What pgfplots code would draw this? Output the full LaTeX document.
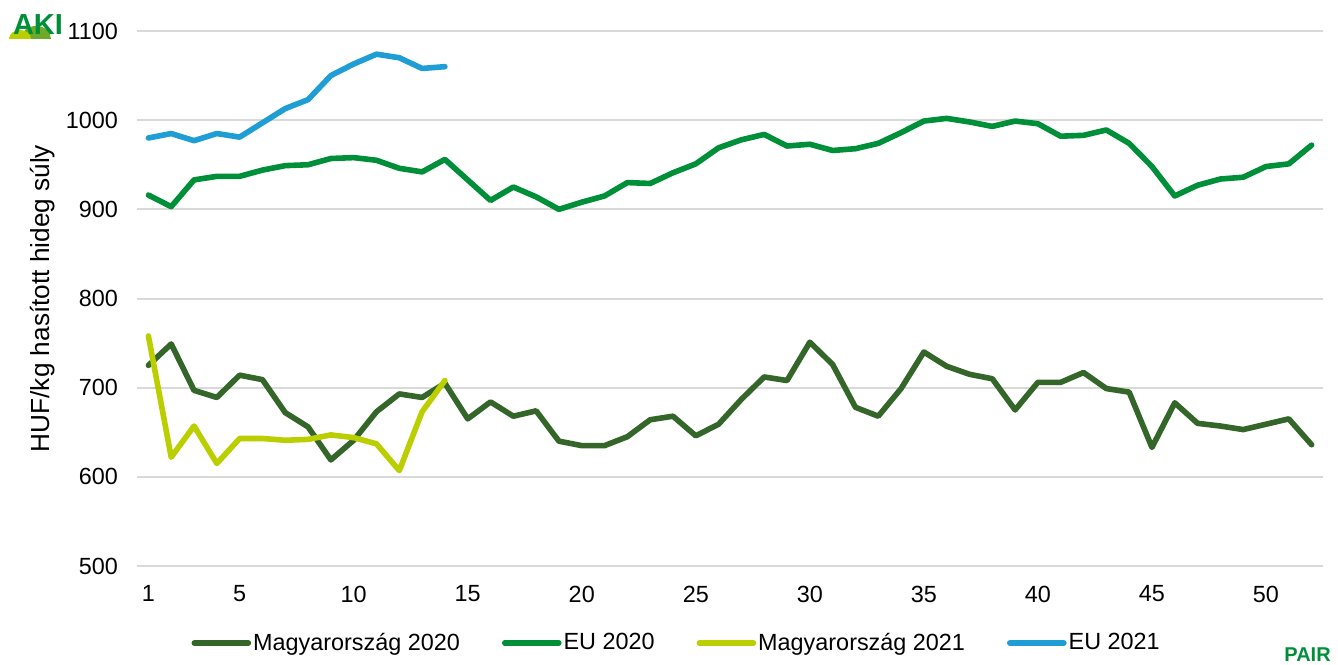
\documentclass[border=0pt]{standalone}
\usepackage{pgfplots}
\pgfplotsset{compat=1.18}
\usepackage{fontspec}
\setmainfont{Liberation Sans}
\definecolor{huA}{RGB}{52,102,42}
\definecolor{euA}{RGB}{0,143,57}
\definecolor{huB}{RGB}{187,207,0}
\definecolor{euB}{RGB}{31,158,213}
\definecolor{gridc}{RGB}{217,217,217}
\definecolor{akiOlive}{RGB}{110,170,40}
\begin{document}
\begin{tikzpicture}
\begin{axis}[
  scale only axis,
  width=593pt, height=267.5pt,
  xmin=0.5, xmax=52.5, ymin=500, ymax=1100,
  xtick={1,5,10,15,20,25,30,35,40,45,50},
  ytick={500,600,700,800,900,1000,1100},
  axis line style={draw=none},
  major tick length=0pt,
  ymajorgrids,
  grid style={gridc, line width=1pt},
  /pgf/number format/assume math mode=true,
  /pgf/number format/1000 sep={},
  tick label style={font=\fontsize{11.7}{14}\selectfont},
  yticklabel style={xshift=-6pt},
  xticklabel style={yshift=-6.4pt},
  ylabel={HUF/kg hasított hideg súly},
  ylabel style={at={(-0.0793,0.5)}, anchor=center, font=\fontsize{13.1}{15}\selectfont},
  legend columns=4,
  legend style={at={(0.455,-0.144)}, anchor=center, draw=none, fill=none,
    font=\fontsize{11.7}{14}\selectfont,
    nodes={inner xsep=1pt},
    /tikz/every even column/.append style={column sep=20pt}},
  legend image code/.code={\draw[#1, line width=2.8pt, line cap=round] (0pt,0pt) -- (27pt,0pt);},
  every axis plot/.append style={line width=2.8pt, line join=round, line cap=round, mark=none},
]
\addplot[huA] coordinates {(1,725)(2,749)(3,697)(4,689)(5,714)(6,709)(7,672)(8,656)(9,619)(10,641)(11,673)(12,693)(13,689)(14,705)(15,665)(16,684)(17,668)(18,674)(19,640)(20,635)(21,635)(22,645)(23,664)(24,668)(25,646)(26,659)(27,687)(28,712)(29,708)(30,751)(31,726)(32,678)(33,668)(34,699)(35,740)(36,724)(37,715)(38,710)(39,675)(40,706)(41,706)(42,717)(43,699)(44,695)(45,633)(46,683)(47,660)(48,657)(49,653)(50,659)(51,665)(52,636)};
\addlegendentry{Magyarország 2020}
\addplot[euA] coordinates {(1,916)(2,903)(3,933)(4,937)(5,937)(6,944)(7,949)(8,950)(9,957)(10,958)(11,955)(12,946)(13,942)(14,956)(15,933)(16,910)(17,925)(18,914)(19,900)(20,908)(21,915)(22,930)(23,929)(24,941)(25,951)(26,969)(27,978)(28,984)(29,971)(30,973)(31,966)(32,968)(33,974)(34,986)(35,999)(36,1002)(37,998)(38,993)(39,999)(40,996)(41,982)(42,983)(43,989)(44,974)(45,948)(46,915)(47,927)(48,934)(49,936)(50,948)(51,951)(52,972)};
\addlegendentry{EU 2020}
\addplot[huB] coordinates {(1,758)(2,622)(3,657)(4,615)(5,643)(6,643)(7,641)(8,642)(9,647)(10,644)(11,637)(12,607)(13,673)(14,708)};
\addlegendentry{Magyarország 2021}
\addplot[euB] coordinates {(1,980)(2,985)(3,977)(4,985)(5,981)(6,997)(7,1013)(8,1023)(9,1050)(10,1063)(11,1074)(12,1070)(13,1058)(14,1060)};
\addlegendentry{EU 2021}
\end{axis}
\pgfresetboundingbox
\path[use as bounding box] ([xshift=-68.5pt,yshift=15.5pt]current axis.north west) rectangle ([xshift=7.5pt,yshift=-49pt]current axis.south east);
\begin{scope}[shift={([xshift=-68.5pt,yshift=15.5pt]current axis.north west)}, x=0.5pt, y=-0.5pt]
  \begin{scope}
    \clip (0,0) rectangle (70,39);
    \fill[akiOlive] (36,39) ellipse [x radius=7.5pt, y radius=6.5pt];
    \fill[huB] (20,39) ellipse [x radius=5.5pt, y radius=4.5pt];
  \end{scope}
  \node[anchor=center, text=euA, font=\bfseries\fontsize{14.5}{15}\selectfont, inner sep=0pt] at (38,25) {AKI};
  \node[anchor=south west, text=euA, font=\bfseries\fontsize{10}{11}\selectfont, inner sep=0pt] at (1284,662) {PAIR};
\end{scope}
\end{tikzpicture}
\end{document}
